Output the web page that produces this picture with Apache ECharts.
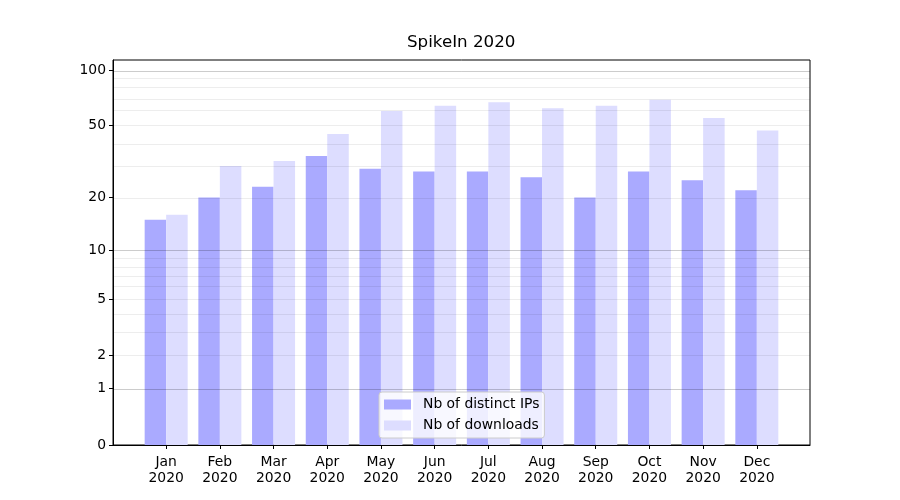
<!DOCTYPE html>
<html>
<head>
<meta charset="utf-8">
<script src="https://cdn.jsdelivr.net/npm/echarts@6/dist/echarts.min.js"></script>
<style>html,body{margin:0;padding:0;background:#fff;}#c{width:900px;height:500px;}</style>
</head>
<body>
<div id="c"></div>
<script>
const months = ['Jan','Feb','Mar','Apr','May','Jun','Jul','Aug','Sep','Oct','Nov','Dec'];
const yearLabel = '2020';
const distinctIPs = [15, 20, 23, 34, 29, 28, 28, 26, 20, 28, 25, 22];
const downloads  = [16, 30, 32, 45, 60, 64, 67, 62, 64, 69, 55, 47];
const yTickLabels = [0, 1, 2, 5, 10, 20, 50, 100];
const majorGrid = [1, 10, 100];
const minorGrid = [2,3,4,5,6,7,8,9,20,30,40,50,60,70,80,90];

const tf = v => Math.log10(1 + v);
const FONT = 'DejaVu Sans';

const chart = echarts.init(document.getElementById('c'), null, {renderer: 'canvas'});
const idx = months.map((m, i) => i);

chart.setOption({
  animation: false,
  backgroundColor: '#fff',
  title: {
    text: 'SpikeIn 2020',
    left: 407, top: 34, padding: 0,
    textStyle: {fontFamily: FONT, fontSize: 16.7, fontWeight: 'normal', color: '#000'}
  },
  legend: {
    orient: 'vertical',
    left: 379, top: 392,
    padding: [5, 5, 5, 5],
    itemWidth: 27, itemHeight: 10, itemGap: 6,
    backgroundColor: 'rgba(255,255,255,0.8)',
    borderColor: '#cccccc', borderWidth: 1, borderRadius: 3,
    textStyle: {fontFamily: FONT, fontSize: 13.9, color: '#000', lineHeight: 15, padding: [0, 0, 0, 7]},
    data: ['Nb of distinct IPs', 'Nb of downloads'],
    icon: 'rect'
  },
  grid: {
    left: 113, right: 90, top: 60, bottom: 55,
    show: true, borderColor: '#000', borderWidth: 1, backgroundColor: 'transparent'
  },
  xAxis: {
    type: 'value', min: -0.99, max: 11.99,
    splitLine: {show: false},
    axisLine: {show: true, onZero: false, lineStyle: {color: '#000', width: 1}},
    axisTick: {show: true, length: 4, customValues: idx, lineStyle: {color: '#000'}},
    axisLabel: {
      customValues: idx, margin: 9,
      fontFamily: FONT, fontSize: 13.9, color: '#000', lineHeight: 16,
      formatter: v => months[Math.round(v)] + '\n' + yearLabel
    }
  },
  yAxis: {
    type: 'value', min: 0, max: 2.0577,
    splitLine: {show: false},
    axisLine: {show: true, onZero: false, lineStyle: {color: '#000', width: 1}},
    axisTick: {show: true, length: 4, customValues: yTickLabels.map(tf), lineStyle: {color: '#000'}},
    axisLabel: {
      customValues: yTickLabels.map(tf), margin: 7, padding: [3, 0, 0, 0],
      fontFamily: FONT, fontSize: 13.9, color: '#000',
      formatter: v => String(Math.round(Math.pow(10, v) - 1))
    }
  },
  series: [
    {
      name: 'Nb of distinct IPs', type: 'bar',
      barWidth: 21.5, barGap: '0%',
      itemStyle: {color: '#aaaaff'},
      data: distinctIPs.map((v, i) => [i, tf(v)]),
      z: 2
    },
    {
      name: 'Nb of downloads', type: 'bar',
      barWidth: 21.5, barGap: '0%',
      itemStyle: {color: '#ddddff'},
      data: downloads.map((v, i) => [i, tf(v)]),
      z: 2
    },
    {
      name: 'grid', type: 'line', data: [], z: 5, silent: true,
      markLine: {
        silent: true, symbol: ['none', 'none'], label: {show: false},
        animation: false,
        data: majorGrid.map(t => ({yAxis: tf(t), lineStyle: {color: 'rgba(0,0,0,0.2)', width: 1, type: 'solid'}}))
          .concat(minorGrid.map(t => ({yAxis: tf(t), lineStyle: {color: 'rgba(0,0,0,0.07)', width: 1, type: 'solid'}})))
      }
    }
  ]
});
</script>
</body>
</html>
